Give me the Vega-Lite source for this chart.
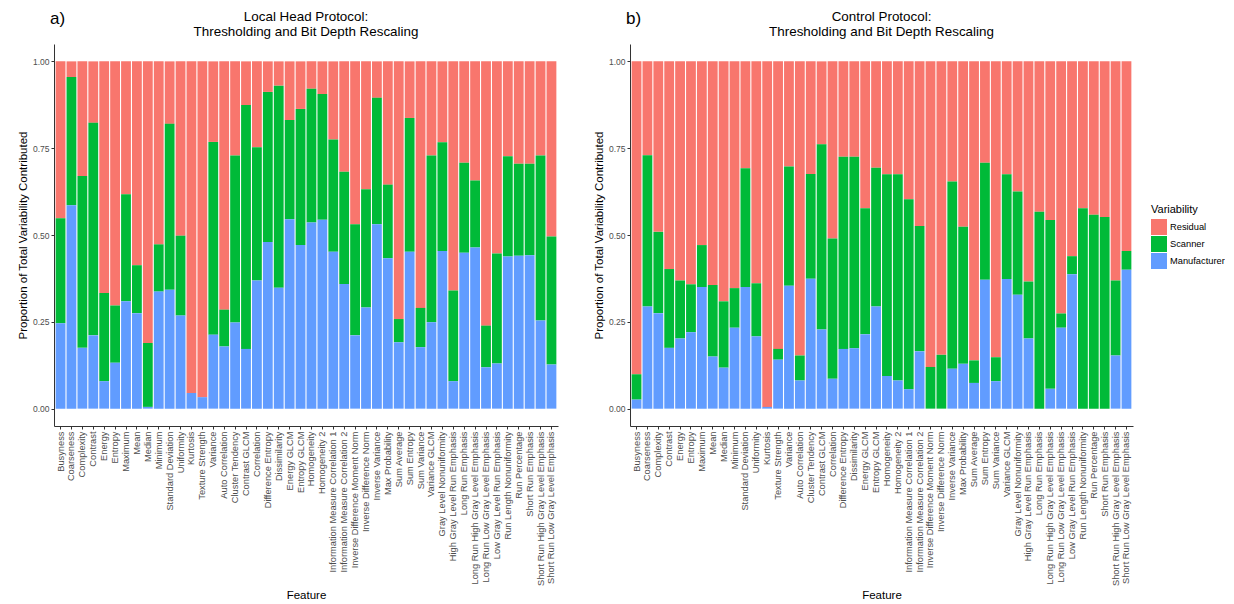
{
  "$schema": "https://vega.github.io/schema/vega-lite/v6.json",
  "padding": {"left": 17, "top": 9, "right": 0, "bottom": 0},
  "datasets": {
    "rk": [
      {"Variability": "Manufacturer", "k": 0},
      {"Variability": "Scanner", "k": 1},
      {"Variability": "Residual", "k": 2}
    ],
    "d": [
      {"p":"a","f":"Busyness","Manufacturer":0.246,"Scanner":0.302,"Residual":0.452},
      {"p":"a","f":"Coarseness","Manufacturer":0.586,"Scanner":0.369,"Residual":0.045},
      {"p":"a","f":"Complexity","Manufacturer":0.175,"Scanner":0.495,"Residual":0.330},
      {"p":"a","f":"Contrast","Manufacturer":0.211,"Scanner":0.612,"Residual":0.177},
      {"p":"a","f":"Energy","Manufacturer":0.079,"Scanner":0.254,"Residual":0.667},
      {"p":"a","f":"Entropy","Manufacturer":0.132,"Scanner":0.165,"Residual":0.703},
      {"p":"a","f":"Maximum","Manufacturer":0.309,"Scanner":0.308,"Residual":0.383},
      {"p":"a","f":"Mean","Manufacturer":0.275,"Scanner":0.138,"Residual":0.587},
      {"p":"a","f":"Median","Manufacturer":0.005,"Scanner":0.184,"Residual":0.811},
      {"p":"a","f":"Minimum","Manufacturer":0.337,"Scanner":0.136,"Residual":0.527},
      {"p":"a","f":"Standard Deviation","Manufacturer":0.342,"Scanner":0.478,"Residual":0.180},
      {"p":"a","f":"Uniformity","Manufacturer":0.268,"Scanner":0.230,"Residual":0.502},
      {"p":"a","f":"Kurtosis","Manufacturer":0.045,"Scanner":0.0,"Residual":0.955},
      {"p":"a","f":"Texture Strength","Manufacturer":0.033,"Scanner":0.0,"Residual":0.967},
      {"p":"a","f":"Variance","Manufacturer":0.213,"Scanner":0.555,"Residual":0.232},
      {"p":"a","f":"Auto Correlation","Manufacturer":0.179,"Scanner":0.106,"Residual":0.715},
      {"p":"a","f":"Cluster Tendency","Manufacturer":0.248,"Scanner":0.481,"Residual":0.271},
      {"p":"a","f":"Contrast GLCM","Manufacturer":0.172,"Scanner":0.702,"Residual":0.126},
      {"p":"a","f":"Correlation","Manufacturer":0.369,"Scanner":0.384,"Residual":0.247},
      {"p":"a","f":"Difference Entropy","Manufacturer":0.480,"Scanner":0.432,"Residual":0.088},
      {"p":"a","f":"Dissimilarity","Manufacturer":0.348,"Scanner":0.582,"Residual":0.070},
      {"p":"a","f":"Energy GLCM","Manufacturer":0.545,"Scanner":0.286,"Residual":0.169},
      {"p":"a","f":"Entropy GLCM","Manufacturer":0.471,"Scanner":0.392,"Residual":0.137},
      {"p":"a","f":"Homogeneity","Manufacturer":0.536,"Scanner":0.385,"Residual":0.079},
      {"p":"a","f":"Homogeneity 2","Manufacturer":0.544,"Scanner":0.362,"Residual":0.094},
      {"p":"a","f":"Information Measure Correlation 1","Manufacturer":0.452,"Scanner":0.323,"Residual":0.225},
      {"p":"a","f":"Information Measure Correlation 2","Manufacturer":0.359,"Scanner":0.323,"Residual":0.318},
      {"p":"a","f":"Inverse Difference Moment Norm","Manufacturer":0.211,"Scanner":0.320,"Residual":0.469},
      {"p":"a","f":"Inverse Difference Norm","Manufacturer":0.291,"Scanner":0.341,"Residual":0.368},
      {"p":"a","f":"Inverse Variance","Manufacturer":0.531,"Scanner":0.364,"Residual":0.105},
      {"p":"a","f":"Max Probability","Manufacturer":0.433,"Scanner":0.212,"Residual":0.355},
      {"p":"a","f":"Sum Average","Manufacturer":0.191,"Scanner":0.067,"Residual":0.742},
      {"p":"a","f":"Sum Entropy","Manufacturer":0.452,"Scanner":0.385,"Residual":0.163},
      {"p":"a","f":"Sum Variance","Manufacturer":0.177,"Scanner":0.113,"Residual":0.710},
      {"p":"a","f":"Variance GLCM","Manufacturer":0.249,"Scanner":0.480,"Residual":0.271},
      {"p":"a","f":"Gray Level Nonuniformity","Manufacturer":0.454,"Scanner":0.313,"Residual":0.233},
      {"p":"a","f":"High Gray Level Run Emphasis","Manufacturer":0.079,"Scanner":0.261,"Residual":0.660},
      {"p":"a","f":"Long Run Emphasis","Manufacturer":0.449,"Scanner":0.259,"Residual":0.292},
      {"p":"a","f":"Long Run High Gray Level Emphasis","Manufacturer":0.464,"Scanner":0.193,"Residual":0.343},
      {"p":"a","f":"Long Run Low Gray Level Emphasis","Manufacturer":0.119,"Scanner":0.120,"Residual":0.761},
      {"p":"a","f":"Low Gray Level Run Emphasis","Manufacturer":0.130,"Scanner":0.317,"Residual":0.553},
      {"p":"a","f":"Run Length Nonuniformity","Manufacturer":0.438,"Scanner":0.289,"Residual":0.273},
      {"p":"a","f":"Run Percentage","Manufacturer":0.440,"Scanner":0.265,"Residual":0.295},
      {"p":"a","f":"Short Run Emphasis","Manufacturer":0.442,"Scanner":0.263,"Residual":0.295},
      {"p":"a","f":"Short Run High Gray Level Emphasis","Manufacturer":0.254,"Scanner":0.475,"Residual":0.271},
      {"p":"a","f":"Short Run Low Gray Level Emphasis","Manufacturer":0.127,"Scanner":0.369,"Residual":0.504},
      {"p":"b","f":"Busyness","Manufacturer":0.026,"Scanner":0.073,"Residual":0.901},
      {"p":"b","f":"Coarseness","Manufacturer":0.294,"Scanner":0.436,"Residual":0.270},
      {"p":"b","f":"Complexity","Manufacturer":0.275,"Scanner":0.234,"Residual":0.491},
      {"p":"b","f":"Contrast","Manufacturer":0.175,"Scanner":0.227,"Residual":0.598},
      {"p":"b","f":"Energy","Manufacturer":0.202,"Scanner":0.167,"Residual":0.631},
      {"p":"b","f":"Entropy","Manufacturer":0.220,"Scanner":0.138,"Residual":0.642},
      {"p":"b","f":"Maximum","Manufacturer":0.350,"Scanner":0.121,"Residual":0.529},
      {"p":"b","f":"Mean","Manufacturer":0.150,"Scanner":0.206,"Residual":0.644},
      {"p":"b","f":"Median","Manufacturer":0.118,"Scanner":0.191,"Residual":0.691},
      {"p":"b","f":"Minimum","Manufacturer":0.233,"Scanner":0.114,"Residual":0.653},
      {"p":"b","f":"Standard Deviation","Manufacturer":0.350,"Scanner":0.342,"Residual":0.308},
      {"p":"b","f":"Uniformity","Manufacturer":0.208,"Scanner":0.153,"Residual":0.639},
      {"p":"b","f":"Kurtosis","Manufacturer":0.005,"Scanner":0.0,"Residual":0.995},
      {"p":"b","f":"Texture Strength","Manufacturer":0.141,"Scanner":0.031,"Residual":0.828},
      {"p":"b","f":"Variance","Manufacturer":0.354,"Scanner":0.343,"Residual":0.303},
      {"p":"b","f":"Auto Correlation","Manufacturer":0.081,"Scanner":0.072,"Residual":0.847},
      {"p":"b","f":"Cluster Tendency","Manufacturer":0.374,"Scanner":0.302,"Residual":0.324},
      {"p":"b","f":"Contrast GLCM","Manufacturer":0.228,"Scanner":0.533,"Residual":0.239},
      {"p":"b","f":"Correlation","Manufacturer":0.086,"Scanner":0.404,"Residual":0.510},
      {"p":"b","f":"Difference Entropy","Manufacturer":0.172,"Scanner":0.553,"Residual":0.275},
      {"p":"b","f":"Dissimilarity","Manufacturer":0.174,"Scanner":0.551,"Residual":0.275},
      {"p":"b","f":"Energy GLCM","Manufacturer":0.214,"Scanner":0.363,"Residual":0.423},
      {"p":"b","f":"Entropy GLCM","Manufacturer":0.294,"Scanner":0.400,"Residual":0.306},
      {"p":"b","f":"Homogeneity","Manufacturer":0.094,"Scanner":0.581,"Residual":0.325},
      {"p":"b","f":"Homogeneity 2","Manufacturer":0.081,"Scanner":0.594,"Residual":0.325},
      {"p":"b","f":"Information Measure Correlation 1","Manufacturer":0.056,"Scanner":0.547,"Residual":0.397},
      {"p":"b","f":"Information Measure Correlation 2","Manufacturer":0.165,"Scanner":0.361,"Residual":0.474},
      {"p":"b","f":"Inverse Difference Moment Norm","Manufacturer":0.0,"Scanner":0.120,"Residual":0.880},
      {"p":"b","f":"Inverse Difference Norm","Manufacturer":0.0,"Scanner":0.155,"Residual":0.845},
      {"p":"b","f":"Inverse Variance","Manufacturer":0.115,"Scanner":0.539,"Residual":0.346},
      {"p":"b","f":"Max Probability","Manufacturer":0.129,"Scanner":0.395,"Residual":0.476},
      {"p":"b","f":"Sum Average","Manufacturer":0.074,"Scanner":0.065,"Residual":0.861},
      {"p":"b","f":"Sum Entropy","Manufacturer":0.371,"Scanner":0.337,"Residual":0.292},
      {"p":"b","f":"Sum Variance","Manufacturer":0.079,"Scanner":0.069,"Residual":0.852},
      {"p":"b","f":"Variance GLCM","Manufacturer":0.373,"Scanner":0.302,"Residual":0.325},
      {"p":"b","f":"Gray Level Nonuniformity","Manufacturer":0.328,"Scanner":0.297,"Residual":0.375},
      {"p":"b","f":"High Gray Level Run Emphasis","Manufacturer":0.202,"Scanner":0.164,"Residual":0.634},
      {"p":"b","f":"Long Run Emphasis","Manufacturer":0.0,"Scanner":0.567,"Residual":0.433},
      {"p":"b","f":"Long Run High Gray Level Emphasis","Manufacturer":0.057,"Scanner":0.486,"Residual":0.457},
      {"p":"b","f":"Long Run Low Gray Level Emphasis","Manufacturer":0.233,"Scanner":0.041,"Residual":0.726},
      {"p":"b","f":"Low Gray Level Run Emphasis","Manufacturer":0.387,"Scanner":0.052,"Residual":0.561},
      {"p":"b","f":"Run Length Nonuniformity","Manufacturer":0.0,"Scanner":0.577,"Residual":0.423},
      {"p":"b","f":"Run Percentage","Manufacturer":0.0,"Scanner":0.558,"Residual":0.442},
      {"p":"b","f":"Short Run Emphasis","Manufacturer":0.0,"Scanner":0.552,"Residual":0.448},
      {"p":"b","f":"Short Run High Gray Level Emphasis","Manufacturer":0.153,"Scanner":0.216,"Residual":0.631},
      {"p":"b","f":"Short Run Low Gray Level Emphasis","Manufacturer":0.400,"Scanner":0.054,"Residual":0.546}
    ]
  },
  "spacing": 35,
  "hconcat": [
    {
      "title": {"text": "a)", "anchor": "start", "frame": "group", "fontSize": 17, "fontWeight": "normal", "offset": -18, "dx": -4},
      "vconcat": [
        {
          "title": {"text": ["Local Head Protocol:", "Thresholding and Bit Depth Rescaling"], "anchor": "middle", "frame": "group", "fontSize": 13.4, "fontWeight": "normal", "lineHeight": 15, "offset": 6},
          "data": {"name": "d"},
          "transform": [
            {"filter": "datum.p == 'a'"},
            {"fold": ["Residual", "Scanner", "Manufacturer"], "as": ["Variability", "value"]},
            {"lookup": "Variability", "from": {"data": {"name": "rk"}, "key": "Variability", "fields": ["k"]}}
          ],
          "width": 504,
          "height": 382,
          "mark": {"type": "bar"},
          "encoding": {
            "x": {"field": "f", "type": "nominal", "sort": null, "title": "Feature",
                  "scale": {"paddingInner": 0.1, "paddingOuter": 0.15},
                  "axis": {"labelAngle": -90, "labelFontSize": 9.3, "labelPadding": 2, "titlePadding": 4, "titleFontSize": 11.5}},
            "y": {"field": "value", "type": "quantitative", "stack": "zero",
                  "scale": {"domain": [-0.05, 1.05], "nice": false},
                  "axis": {"values": [0, 0.25, 0.5, 0.75, 1], "format": ".2f", "title": "Proportion of Total Variability Contributed", "labelFontSize": 8.5, "titleFontSize": 11.5, "titlePadding": 4}},
            "order": {"field": "k", "type": "quantitative", "sort": "ascending"},
            "color": {"field": "Variability", "type": "nominal",
                      "scale": {"domain": ["Residual", "Scanner", "Manufacturer"], "range": ["#F8766D", "#00BA38", "#619CFF"]},
                      "legend": {"orient": "none", "legendX": 1097, "legendY": 160, "title": "Variability"}}
          }
        }
      ]
    },
    {
      "title": {"text": "b)", "anchor": "start", "frame": "group", "fontSize": 17, "fontWeight": "normal", "offset": -18, "dx": -4},
      "vconcat": [
        {
          "title": {"text": ["Control Protocol:", "Thresholding and Bit Depth Rescaling"], "anchor": "middle", "frame": "group", "fontSize": 13.4, "fontWeight": "normal", "lineHeight": 15, "offset": 6},
          "data": {"name": "d"},
          "transform": [
            {"filter": "datum.p == 'b'"},
            {"fold": ["Residual", "Scanner", "Manufacturer"], "as": ["Variability", "value"]},
            {"lookup": "Variability", "from": {"data": {"name": "rk"}, "key": "Variability", "fields": ["k"]}}
          ],
          "width": 503,
          "height": 382,
          "mark": {"type": "bar"},
          "encoding": {
            "x": {"field": "f", "type": "nominal", "sort": null, "title": "Feature",
                  "scale": {"paddingInner": 0.1, "paddingOuter": 0.15},
                  "axis": {"labelAngle": -90, "labelFontSize": 9.3, "labelPadding": 2, "titlePadding": 4, "titleFontSize": 11.5}},
            "y": {"field": "value", "type": "quantitative", "stack": "zero",
                  "scale": {"domain": [-0.05, 1.05], "nice": false},
                  "axis": {"values": [0, 0.25, 0.5, 0.75, 1], "format": ".2f", "title": "Proportion of Total Variability Contributed", "labelFontSize": 8.5, "titleFontSize": 11.5, "titlePadding": 4}},
            "order": {"field": "k", "type": "quantitative", "sort": "ascending"},
            "color": {"field": "Variability", "type": "nominal",
                      "scale": {"domain": ["Residual", "Scanner", "Manufacturer"], "range": ["#F8766D", "#00BA38", "#619CFF"]},
                      "legend": {"orient": "none", "legendX": 1097, "legendY": 160, "title": "Variability"}}
          }
        }
      ]
    }
  ],
  "config": {
    "font": "Liberation Sans",
    "view": {"stroke": null},
    "axis": {"grid": false, "domainColor": "#333333", "tickColor": "#333333", "tickSize": 3, "labelColor": "#4D4D4D", "titleColor": "#000000", "titleFontWeight": "normal"},
    "legend": {"titleFontSize": 11, "titleFontWeight": "normal", "titleColor": "#000000", "labelFontSize": 9.3, "labelColor": "#000000", "symbolType": "square", "symbolSize": 256, "symbolStrokeWidth": 0, "symbolOpacity": 1, "rowPadding": 1, "labelOffset": 3, "titlePadding": 4}
  }
}
